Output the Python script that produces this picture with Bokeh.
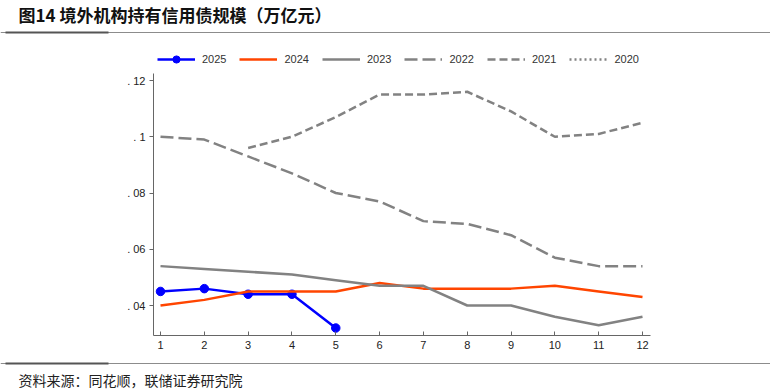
from bokeh.plotting import figure
from bokeh.models import (Range1d, FixedTicker, CustomJSTickFormatter, Legend, LegendItem)
from bokeh.core.properties import value
from bokeh.embed import file_html
from bokeh.resources import INLINE

nan = float("nan")

# ---------------- data ----------------
months = [1, 2, 3, 4, 5, 6, 7, 8, 9, 10, 11, 12]
months_2025 = [1, 2, 3, 4, 5]
y2025 = [0.045, 0.046, 0.044, 0.044, 0.032]
y2024 = [0.040, 0.042, 0.045, 0.045, 0.045, 0.048, 0.046, 0.046, 0.046, 0.047, 0.045, 0.043]
y2023 = [0.054, 0.053, 0.052, 0.051, 0.049, 0.047, 0.047, 0.040, 0.040, 0.036, 0.033, 0.036]
y2022 = [0.100, 0.099, 0.093, 0.087, 0.080, 0.077, 0.070, 0.069, 0.065, 0.057, 0.054, 0.054]
months_2021 = [3, 4, 5, 6, 7, 8, 9, 10, 11, 12]
y2021 = [0.096, 0.100, 0.107, 0.115, 0.115, 0.116, 0.109, 0.100, 0.101, 0.105]
months_2020 = [1, 2]
y2020 = [nan, nan]  # no 2020 values are drawn in the chart, only its legend entry

series_names = ["2025", "2024", "2023", "2022", "2021", "2020"]
yticks = [0.04, 0.06, 0.08, 0.10, 0.12]
ytick_labels = [". 04", ". 06", ". 08", ". 1", ". 12"]
xticks = months

title_text = "图14 境外机构持有信用债规模（万亿元）"
source_text = "资料来源：同花顺，联储证券研究院"

FONT = "Liberation Sans"
CJK = "Noto Sans CJK SC"
W, H = 770, 390

# layout: pixel positions of the plot area (left, right, top, bottom)
PL, PR, PT, PB = 153, 650, 73, 335
# x: month 1 sits 7px inside the left edge, month 12 8px inside the right edge
XPU = (PR - 8 - (PL + 7)) / 11.0
# y: 0.12 sits 7px below the top edge, 0.04 30px above the bottom edge
YPU = (PB - 30 - (PT + 7)) / 0.08
X0 = 1 - (PL + 7) / XPU
Y1 = 0.12 + (PT + 7) / YPU


def dx(px):
    return X0 + px / XPU


def dy(py):
    return Y1 - py / YPU


p = figure(width=W, height=H, x_range=Range1d(dx(0), dx(W)), y_range=Range1d(dy(H), dy(0)),
           toolbar_location=None, output_backend="svg",
           min_border_left=0, min_border_right=0, min_border_top=0, min_border_bottom=0)
p.outline_line_color = None
p.grid.visible = False

GRAY = "#828282"
r25l = p.line(months_2025, y2025, line_color="#0000ff", line_width=2.5)
r25m = p.scatter(months_2025, y2025, size=8.5, fill_color="#0000ff", line_color="#0000ff")
r24 = p.line(months, y2024, line_color="#ff4500", line_width=2.5)
r23 = p.line(months, y2023, line_color=GRAY, line_width=2.5)
r22 = p.line(months, y2022, line_color=GRAY, line_width=2.5, line_dash="13 5")
r21 = p.line(months_2021, y2021, line_color=GRAY, line_width=2.5, line_dash="8 4")
r20 = p.line(months_2020, y2020, line_color=GRAY, line_width=2.5, line_dash="2 3")

legend = Legend(items=[
    LegendItem(label=series_names[0], renderers=[r25l, r25m]),
    LegendItem(label=series_names[1], renderers=[r24]),
    LegendItem(label=series_names[2], renderers=[r23]),
    LegendItem(label=series_names[3], renderers=[r22]),
    LegendItem(label=series_names[4], renderers=[r21]),
    LegendItem(label=series_names[5], renderers=[r20]),
], orientation="horizontal", location=(157, H - PT + 5), margin=0, padding=5, spacing=13,
    glyph_width=38, glyph_height=18, label_standoff=7, label_text_font=FONT,
    label_text_font_size="11px", label_text_color="#333333",
    border_line_color=None, background_fill_alpha=0)
p.add_layout(legend)

ax = p.xaxis[0]
ax.fixed_location = dy(PB)
ax.bounds = (dx(PL), dx(PR))
ax.ticker = FixedTicker(ticks=xticks)
ax.minor_tick_line_color = None
ax.major_tick_in = 4
ax.major_tick_out = 0
ax.axis_line_color = "#666666"
ax.major_tick_line_color = "#666666"
ax.major_label_text_font = FONT
ax.major_label_text_font_size = "11px"
ax.major_label_text_color = "#222222"
ax.major_label_standoff = 5

ay = p.yaxis[0]
ay.fixed_location = dx(PL)
ay.bounds = (dy(PB), dy(PT))
ay.ticker = FixedTicker(ticks=yticks)
ay.formatter = CustomJSTickFormatter(args=dict(tv=yticks, tl=ytick_labels), code="""
for (let i = 0; i < tv.length; i++) { if (Math.abs(tick - tv[i]) < 1e-9) return tl[i]; }
return '';
""")
ay.minor_tick_line_color = None
ay.major_tick_in = 0
ay.major_tick_out = 4
ay.axis_line_color = "#666666"
ay.major_tick_line_color = "#666666"
ay.major_label_text_font = FONT
ay.major_label_text_font_size = "11px"
ay.major_label_text_color = "#222222"
ay.major_label_standoff = 4

# ---- title, source and rules ----
p.text(x=[dx(18)], y=[dy(14)], text=[title_text], text_font=value(CJK), text_font_style="bold",
       text_font_size="17px", text_color="#111111", text_baseline="middle", text_align="left")
p.text(x=[dx(18)], y=[dy(379)], text=[source_text], text_font=value(CJK),
       text_font_size="14px", text_color="#222222", text_baseline="middle", text_align="left")
for ry in (32, 363):
    p.segment(x0=[dx(0)], y0=[dy(ry)], x1=[dx(W)], y1=[dy(ry)], line_color="#8c8c8c", line_width=1)
    p.segment(x0=[dx(5)], y0=[dy(ry)], x1=[dx(108)], y1=[dy(ry)], line_color="#555555", line_width=2)

open("out.html", "w").write(file_html(p, INLINE))
